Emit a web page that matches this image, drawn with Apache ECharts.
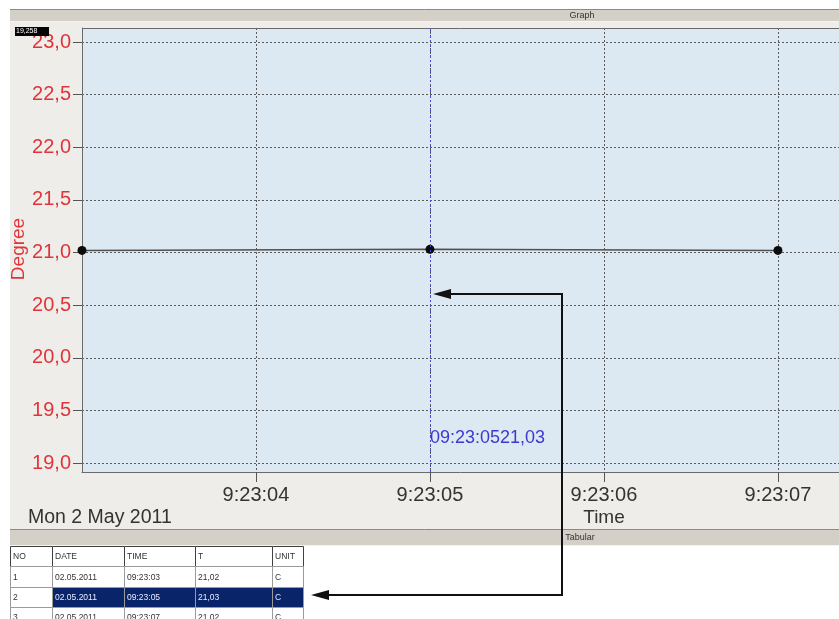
<!DOCTYPE html>
<html>
<head>
<meta charset="utf-8">
<script src="https://cdn.jsdelivr.net/npm/echarts@6/dist/echarts.min.js"></script>
<style>
  html, body { margin: 0; padding: 0; background: #ffffff; }
  #panel { position: absolute; left: 10px; top: 21px; width: 829px; height: 508px; background: #efede9; }
  #chart { position: absolute; left: 0; top: 0; width: 839px; height: 619px; }
</style>
</head>
<body>
<div id="panel"></div>
<div id="chart"></div>
<script>
// Logged temperature samples
const recordDate = '02.05.2011';
const dateCaption = 'Mon 2 May 2011';
const sampleTimes = ['09:23:03', '09:23:05', '09:23:07'];
const temperatures = [21.02, 21.03, 21.02];
const unitLabel = 'C';
const tableHeaders = ['NO', 'DATE', 'TIME', 'T', 'UNIT'];

// Axis ticks
const degreeTicks = [19.0, 19.5, 20.0, 20.5, 21.0, 21.5, 22.0, 22.5, 23.0];
const timeTicks = ['09:23:04', '09:23:05', '09:23:06', '09:23:07'];

// Cursor / selection state
const selectedRow = 1;
const cursorReadout = '19,258';

function toMs(hms) {
  const p = hms.split(':').map(Number);
  return Date.UTC(2011, 4, 2, p[0], p[1], p[2]);
}
function fmtTime(ms) {
  const d = new Date(ms);
  const pad = n => String(n).padStart(2, '0');
  return d.getUTCHours() + ':' + pad(d.getUTCMinutes()) + ':' + pad(d.getUTCSeconds());
}
function comma(v, digits) { return v.toFixed(digits).replace('.', ','); }

const seriesData = sampleTimes.map((t, i) => [toMs(t), temperatures[i]]);
// Visible time window: the plot continues past the right edge of the view
const xMin = toMs(sampleTimes[0]);
const xMax = xMin + 4351;
const timeTickValues = timeTicks.map(toMs);

const FONT = '"Liberation Sans", Arial, sans-serif';
const graphics = [];

// Header bars
function bar(y, h, title, tx) {
  graphics.push({ type: 'rect', shape: { x: 10, y: y, width: 829, height: h },
    style: { fill: '#d4d0c8', stroke: null }, z: 5 });
  graphics.push({ type: 'line', shape: { x1: 10, y1: y + 0.5, x2: 839, y2: y + 0.5 },
    style: { stroke: '#8c8a85', lineWidth: 1 }, z: 6 });
  graphics.push({ type: 'line', shape: { x1: 10, y1: y + h - 0.5, x2: 839, y2: y + h - 0.5 },
    style: { stroke: '#f4f3ef', lineWidth: 1 }, z: 6 });
  graphics.push({ type: 'text', x: tx, y: y + h / 2, z: 7,
    style: { text: title, fill: '#333', font: '9px ' + FONT, align: 'center', verticalAlign: 'middle' } });
}
bar(9, 13, 'Graph', 582);
bar(529, 17, 'Tabular', 580);

// Top edge of the plot frame (left and bottom edges are the axis lines)
graphics.push({ type: 'line', z: 10, shape: { x1: 82, y1: 28.5, x2: 839, y2: 28.5 },
  style: { stroke: '#6a6a6a', lineWidth: 1 } });

// Table area
graphics.push({ type: 'rect', shape: { x: 10, y: 546, width: 829, height: 73 },
  style: { fill: '#ffffff' }, z: 5 });
const colX = [10, 52, 124, 195, 272, 303];
const rowY = [546, 566, 587, 607, 627];
const rows = [tableHeaders].concat(sampleTimes.map((t, i) => [
  String(i + 1), recordDate, t, comma(temperatures[i], 2), unitLabel
]));
rows.forEach((cells, r) => {
  cells.forEach((txt, c) => {
    const sel = (r - 1) === selectedRow && c > 0;
    graphics.push({ type: 'rect', z: 8,
      shape: { x: colX[c] + 0.5, y: rowY[r] + 0.5, width: colX[c + 1] - colX[c], height: rowY[r + 1] - rowY[r] },
      style: { fill: sel ? '#0a246a' : '#ffffff', stroke: r === 0 ? '#404040' : '#9a9a9a', lineWidth: 1 } });
    graphics.push({ type: 'text', z: 9, x: colX[c] + 3, y: (rowY[r] + rowY[r + 1]) / 2 + 1,
      style: { text: txt, fill: sel ? '#e8ecff' : '#333', font: '8.5px ' + FONT, verticalAlign: 'middle' } });
  });
});

// Cursor value box
graphics.push({ type: 'rect', z: 20, shape: { x: 15, y: 27, width: 34, height: 9 }, style: { fill: '#050505' } });
graphics.push({ type: 'text', z: 21, x: 16, y: 31.5,
  style: { text: cursorReadout, fill: '#ffffff', font: '7px ' + FONT, verticalAlign: 'middle' } });

// Axis captions
graphics.push({ type: 'text', z: 10, x: 19, y: 249, rotation: Math.PI / 2,
  style: { text: 'Degree', fill: '#e0343a', font: '19px ' + FONT, align: 'center', verticalAlign: 'middle' } });
graphics.push({ type: 'text', z: 10, x: 604, y: 518,
  style: { text: 'Time', fill: '#333', font: '19px ' + FONT, align: 'center', verticalAlign: 'middle' } });
graphics.push({ type: 'text', z: 10, x: 28, y: 518,
  style: { text: dateCaption, fill: '#333', font: '19.5px ' + FONT, verticalAlign: 'middle' } });

// Link arrows between the selected row and the cursor
graphics.push({ type: 'polyline', z: 30,
  shape: { points: [[326, 595], [562, 595], [562, 294], [448, 294]] },
  style: { stroke: '#111', lineWidth: 2, fill: null } });
function arrowHead(x, y) {
  graphics.push({ type: 'polygon', z: 31,
    shape: { points: [[x, y], [x + 18, y - 5], [x + 18, y + 5]] },
    style: { fill: '#111' } });
}
arrowHead(311, 595);
arrowHead(433, 294);

const chart = echarts.init(document.getElementById('chart'), null, { renderer: 'canvas' });
chart.setOption({
  animation: false,
  backgroundColor: 'transparent',
  grid: {
    left: 82, top: 28, right: 0, bottom: 147,
    show: true, backgroundColor: '#dde9f2', borderWidth: 0
  },
  xAxis: {
    type: 'value', min: xMin, max: xMax,
    axisLine: { show: true, lineStyle: { color: '#6a6a6a', width: 1 } },
    axisTick: { show: true, customValues: timeTickValues, length: 10, lineStyle: { color: '#555' } },
    axisLabel: { customValues: timeTickValues, formatter: v => fmtTime(v), color: '#333',
      fontSize: 20, fontFamily: FONT, margin: 13 },
    splitLine: { show: true, lineStyle: { color: '#5a5a5a', type: [2, 2], width: 1 } }
  },
  yAxis: {
    type: 'value', min: 18.9145, max: 23.133,
    axisLine: { show: true, lineStyle: { color: '#6a6a6a', width: 1 } },
    axisTick: { show: true, customValues: degreeTicks, length: 9, lineStyle: { color: '#555' } },
    axisLabel: { customValues: degreeTicks, formatter: v => comma(v, 1), color: '#e0343a',
      fontSize: 20, fontFamily: FONT, margin: 11 },
    splitLine: { show: true, lineStyle: { color: '#5a5a5a', type: [2, 2], width: 1 } }
  },
  series: [{
    type: 'line',
    data: seriesData,
    symbol: 'circle', symbolSize: 9,
    itemStyle: { color: '#0a0a0a' },
    lineStyle: { color: '#505050', width: 1.5 },
    clip: true,
    markLine: {
      silent: true, symbol: 'none',
      label: { show: false },
      lineStyle: { color: '#4545e0', type: [2, 3], width: 1 },
      data: [{ xAxis: seriesData[selectedRow][0] }]
    },
    markPoint: {
      silent: true, symbol: 'circle', symbolSize: 0,
      label: {
        show: true, position: 'right', distance: 0,
        formatter: () => sampleTimes[selectedRow] + comma(temperatures[selectedRow], 2),
        color: '#3a3ad0', fontSize: 18, fontFamily: FONT
      },
      data: [{ coord: [seriesData[selectedRow][0], 19.24] }]
    }
  }],
  graphic: { elements: graphics }
});
</script>
</body>
</html>
